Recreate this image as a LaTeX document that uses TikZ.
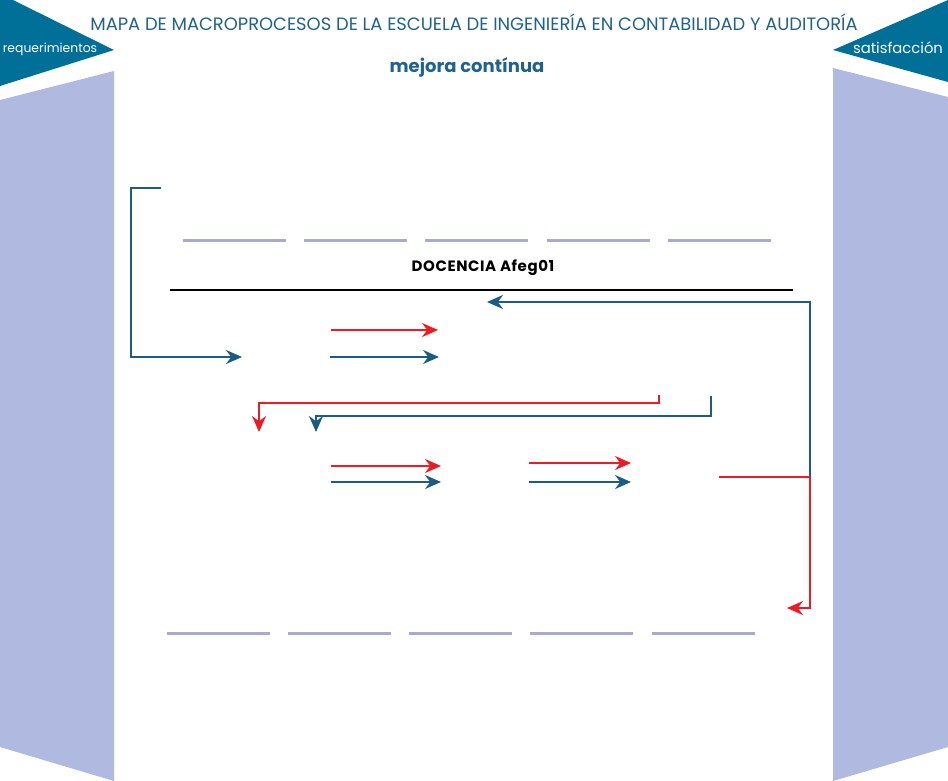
\documentclass[tikz,border=0pt]{standalone}
\usepackage{fontspec}
\usepackage{tikz}
\usepackage{xcolor}
\usetikzlibrary{arrows.meta, positioning, calc}
\newfontfamily\mapfont{Poppins}
\newfontfamily\docfont{Poppins}[LetterSpace=4]
\definecolor{cTeal}{RGB}{0,112,152}
\definecolor{cPanel}{RGB}{176,185,224}
\definecolor{cFlow}{RGB}{27,92,134}
\definecolor{cTitle}{RGB}{31,98,140}
\definecolor{cRed}{RGB}{237,28,36}
\definecolor{cBar}{RGB}{168,170,210}
\tikzset{
	panel/.style   ={fill=cPanel, draw=none},
	flag/.style    ={fill=cTeal, draw=none},
	flagtext/.style={text=white, font=\mapfont\fontsize{12.4}{14}\selectfont, inner sep=0pt},
	bluearrow/.style={-{Stealth[length=16pt, width=14pt]}, line width=2pt, cFlow},
	redarrow/.style ={-{Stealth[length=16pt, width=14pt]}, line width=2pt, cRed},
	blueline/.style ={line width=2pt, cFlow},
	redline/.style  ={line width=2pt, cRed},
	bar/.style      ={line width=3pt, cBar},
}

\begin{document}
\begin{tikzpicture}[x=1pt, y=-1pt]
	\useasboundingbox (0,0) rectangle (948,781);
	% side panels and flags
	\fill[panel] (0,100) -- (114,71) -- (114,781) -- (0,747) -- cycle;
	\fill[panel] (833,68) -- (948,97) -- (948,747) -- (833,781) -- cycle;
	\fill[flag] (0,0) -- (13,0) -- (114,50) -- (0,86) -- cycle;
	\fill[flag] (948,0) -- (948,82) -- (833,50) -- cycle;
	\node[flagtext] (req) at (50,49) {requerimientos};
	\node[flagtext, font=\mapfont\fontsize{14.8}{16}\selectfont] (sat) at (898,48) {satisfacción};
	% titles
	\node[text=cTitle, font=\mapfont\fontsize{17.9}{20}\selectfont, inner sep=0pt] (title) at (474,22)
		{MAPA DE MACROPROCESOS DE LA ESCUELA DE INGENIERÍA EN CONTABILIDAD Y AUDITORÍA};
	\node[text=cTitle, font=\mapfont\bfseries\fontsize{18}{20}\selectfont, inner sep=0pt] (mejora) at (467,67) {mejora contínua};
	\node[font=\docfont\bfseries\fontsize{15}{17}\selectfont, inner sep=0pt] (doc) at (483,268) {DOCENCIA Afeg01};
	% bars
	\foreach \x in {183,304,425,547,668}
		\draw[bar] (\x,240) -- ++(103,0);
	\foreach \x in {167,288,409,530,652}
		\draw[bar] (\x,633) -- ++(103,0);
	\coordinate (docL) at (170,290);
	\coordinate (docR) at (793,290);
	\draw[line width=1.5pt, black] (docL) -- (docR);
	% input
	\coordinate (inS) at (161,188);
	\coordinate (inC) at (131,188);
	\coordinate (inE) at (242,357);
	\draw[bluearrow] (inS) -- (inC) |- (inE);
	% first row
	\coordinate (r1a) at (331,330); \coordinate (r1b) at (438,330);
	\coordinate (b1a) at (330,357); \coordinate (b1b) at (439,357);
	\draw[redarrow] (r1a) -- (r1b);
	\draw[bluearrow] (b1a) -- (b1b);
	% feedback down
	\coordinate (fbR) at (659,395); \coordinate (fbRt) at (659,403); \coordinate (fbRe) at (259,432);
	\coordinate (fbB) at (711,396); \coordinate (fbBt) at (711,416); \coordinate (fbBe) at (316,432);
	\draw[redarrow] (fbR) -- (fbRt) -| (fbRe);
	\draw[bluearrow] (fbB) -- (fbBt) -| (fbBe);
	% second row
	\coordinate (r2a) at (331,466); \coordinate (r2b) at (441,466);
	\coordinate (b2a) at (331,482); \coordinate (b2b) at (441,482);
	\coordinate (r3a) at (529,463); \coordinate (r3b) at (631,463);
	\coordinate (b3a) at (529,482); \coordinate (b3b) at (631,482);
	\draw[redarrow] (r2a) -- (r2b);
	\draw[bluearrow] (b2a) -- (b2b);
	\draw[redarrow] (r3a) -- (r3b);
	\draw[bluearrow] (b3a) -- (b3b);
	% right loop
	\coordinate (loopJ) at (810,477);
	\coordinate (loopT) at (487,302);
	\coordinate (outS) at (719,477);
	\coordinate (outE) at (787,608);
	\draw[bluearrow] (loopJ) |- (loopT);
	\draw[redline] (outS) -- (loopJ);
	\draw[redarrow] (loopJ) |- (outE);
\end{tikzpicture}
\end{document}
